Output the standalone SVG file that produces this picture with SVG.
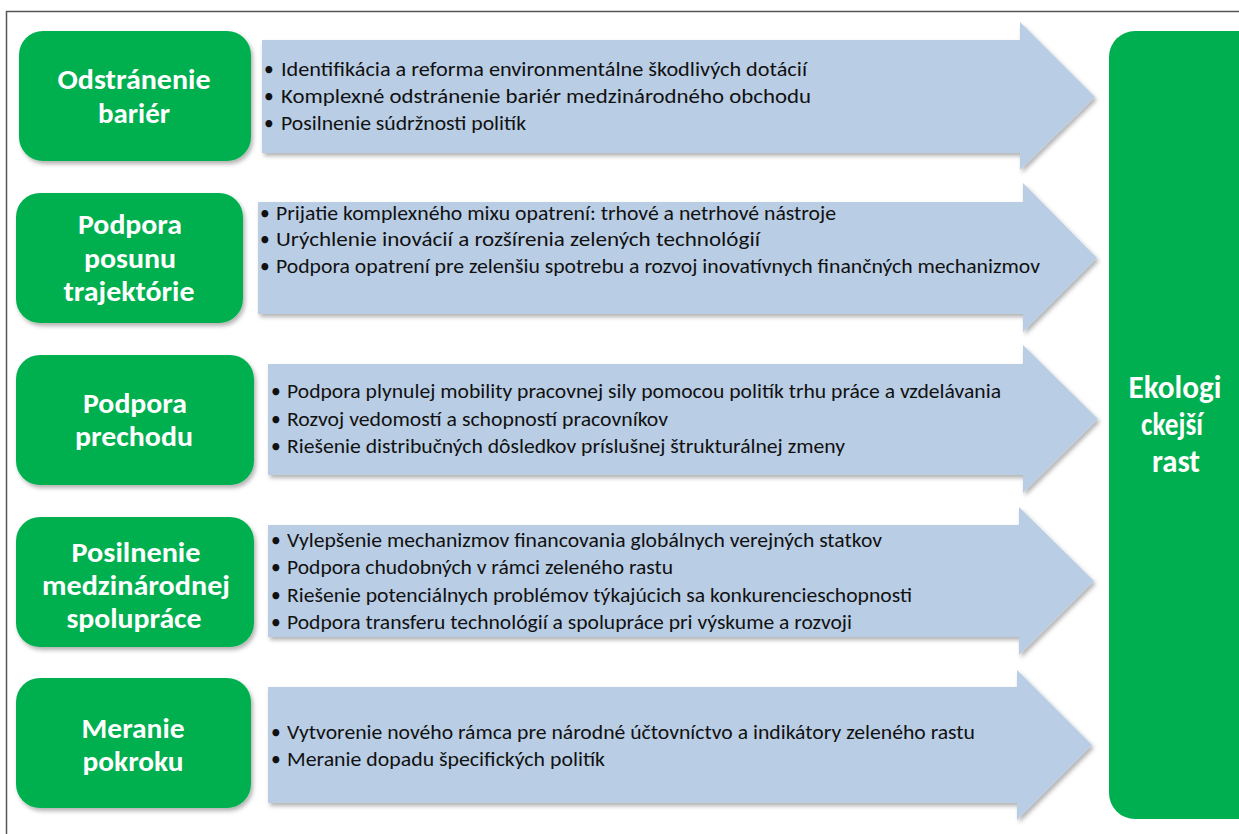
<svg xmlns="http://www.w3.org/2000/svg" width="1239" height="834" viewBox="0 0 1239 834">
<defs>
<filter id="sh" x="-5%" y="-5%" width="115%" height="120%">
<feDropShadow dx="2" dy="3" stdDeviation="2" flood-color="#000" flood-opacity="0.3"/>
</filter>
<style>
.g{fill:#00B050;filter:url(#sh)}
.ar{fill:#B9CDE5;filter:url(#sh)}
.t{font-family:Carlito,Lato,"Liberation Sans",sans-serif;font-weight:bold;fill:#fff;font-size:28.5px;text-anchor:middle}
.rt{font-family:Carlito,Lato,"Liberation Sans",sans-serif;font-weight:bold;fill:#fff;font-size:32px;text-anchor:middle}
.b{font-family:Carlito,Lato,"Liberation Sans",sans-serif;fill:#111;font-size:19.5px}
</style>
</defs>
<rect width="1239" height="834" fill="#fff"/>
<path d="M6.5 834 V11.5 H1239" fill="none" stroke="#555" stroke-width="1.5"/>

<g id="connectors">
<polygon class="ar" points="262,40 1020,40 1020,22 1095,97 1020,170 1020,153 262,153"/>
<polygon class="ar" points="258,202 1023,202 1023,183 1097,258 1023,332 1023,314 258,314"/>
<polygon class="ar" points="268,364 1023,364 1023,345 1098,419 1023,493 1023,475 268,475"/>
<polygon class="ar" points="268,525 1019,525 1019,507 1094,581 1019,655 1019,637 268,637"/>
<polygon class="ar" points="268,687 1017,687 1017,670 1092,745 1017,820 1017,803 268,803"/>
</g>

<g id="arrow1-text">
<text class="b" x="264" y="76">•</text><text class="b" x="281" y="76" textLength="526" lengthAdjust="spacingAndGlyphs">Identifikácia a reforma environmentálne škodlivých dotácií</text>
<text class="b" x="264" y="103">•</text><text class="b" x="281" y="103" textLength="530" lengthAdjust="spacingAndGlyphs">Komplexné odstránenie bariér medzinárodného obchodu</text>
<text class="b" x="264" y="130">•</text><text class="b" x="281" y="130" textLength="245" lengthAdjust="spacingAndGlyphs">Posilnenie súdržnosti politík</text>
</g>
<g id="arrow2-text">
<text class="b" x="260" y="220">•</text><text class="b" x="276" y="220" textLength="560" lengthAdjust="spacingAndGlyphs">Prijatie komplexného mixu opatrení: trhové a netrhové nástroje</text>
<text class="b" x="260" y="246">•</text><text class="b" x="276" y="246" textLength="484" lengthAdjust="spacingAndGlyphs">Urýchlenie inovácií a rozšírenia zelených technológií</text>
<text class="b" x="260" y="273">•</text><text class="b" x="276" y="273" textLength="764" lengthAdjust="spacingAndGlyphs">Podpora opatrení pre zelenšiu spotrebu a rozvoj inovatívnych finančných mechanizmov</text>
</g>
<g id="arrow3-text">
<text class="b" x="271" y="398">•</text><text class="b" x="287" y="398" textLength="714" lengthAdjust="spacingAndGlyphs">Podpora plynulej mobility pracovnej sily pomocou politík trhu práce a vzdelávania</text>
<text class="b" x="271" y="426">•</text><text class="b" x="287" y="426" textLength="381" lengthAdjust="spacingAndGlyphs">Rozvoj vedomostí a schopností pracovníkov</text>
<text class="b" x="271" y="453">•</text><text class="b" x="287" y="453" textLength="558" lengthAdjust="spacingAndGlyphs">Riešenie distribučných dôsledkov príslušnej štrukturálnej zmeny</text>
</g>
<g id="arrow4-text">
<text class="b" x="271" y="547">•</text><text class="b" x="287" y="547" textLength="595" lengthAdjust="spacingAndGlyphs">Vylepšenie mechanizmov financovania globálnych verejných statkov</text>
<text class="b" x="271" y="574">•</text><text class="b" x="287" y="574" textLength="386" lengthAdjust="spacingAndGlyphs">Podpora chudobných v rámci zeleného rastu</text>
<text class="b" x="271" y="602">•</text><text class="b" x="287" y="602" textLength="625" lengthAdjust="spacingAndGlyphs">Riešenie potenciálnych problémov týkajúcich sa konkurencieschopnosti</text>
<text class="b" x="271" y="629">•</text><text class="b" x="287" y="629" textLength="565" lengthAdjust="spacingAndGlyphs">Podpora transferu technológií a spolupráce pri výskume a rozvoji</text>
</g>
<g id="arrow5-text">
<text class="b" x="271" y="739">•</text><text class="b" x="287" y="739" textLength="688" lengthAdjust="spacingAndGlyphs">Vytvorenie nového rámca pre národné účtovníctvo a indikátory zeleného rastu</text>
<text class="b" x="271" y="766">•</text><text class="b" x="287" y="766" textLength="318" lengthAdjust="spacingAndGlyphs">Meranie dopadu špecifických politík</text>
</g>

<g id="node1">
<rect class="g" x="19" y="31" width="232" height="130" rx="24"/>
<text class="t" x="134" y="89" textLength="153" lengthAdjust="spacingAndGlyphs">Odstránenie</text>
<text class="t" x="134" y="123" textLength="72" lengthAdjust="spacingAndGlyphs">bariér</text>
</g>
<g id="node2">
<rect class="g" x="16" y="193" width="227" height="130" rx="24"/>
<text class="t" x="130" y="234" textLength="104" lengthAdjust="spacingAndGlyphs">Podpora</text>
<text class="t" x="130" y="268" textLength="92" lengthAdjust="spacingAndGlyphs">posunu</text>
<text class="t" x="129" y="301" textLength="131" lengthAdjust="spacingAndGlyphs">trajektórie</text>
</g>
<g id="node3">
<rect class="g" x="16" y="355" width="238" height="130" rx="24"/>
<text class="t" x="135" y="413" textLength="104" lengthAdjust="spacingAndGlyphs">Podpora</text>
<text class="t" x="134" y="446" textLength="118" lengthAdjust="spacingAndGlyphs">prechodu</text>
</g>
<g id="node4">
<rect class="g" x="16" y="517" width="238" height="130" rx="24"/>
<text class="t" x="136" y="562" textLength="129" lengthAdjust="spacingAndGlyphs">Posilnenie</text>
<text class="t" x="136" y="595" textLength="188" lengthAdjust="spacingAndGlyphs">medzinárodnej</text>
<text class="t" x="134" y="628" textLength="135" lengthAdjust="spacingAndGlyphs">spolupráce</text>
</g>
<g id="node5">
<rect class="g" x="16" y="678" width="235" height="130" rx="24"/>
<text class="t" x="133" y="738" textLength="103" lengthAdjust="spacingAndGlyphs">Meranie</text>
<text class="t" x="133" y="771" textLength="101" lengthAdjust="spacingAndGlyphs">pokroku</text>
</g>
<g id="node-target">
<rect x="1109" y="31" width="160" height="788" rx="26" fill="#00B050"/>
<text class="rt" x="1175" y="398" textLength="93" lengthAdjust="spacingAndGlyphs">Ekologi</text>
<text class="rt" x="1172" y="435" textLength="62" lengthAdjust="spacingAndGlyphs">ckejší</text>
<text class="rt" x="1176" y="472" textLength="48" lengthAdjust="spacingAndGlyphs">rast</text>
</g>
</svg>
